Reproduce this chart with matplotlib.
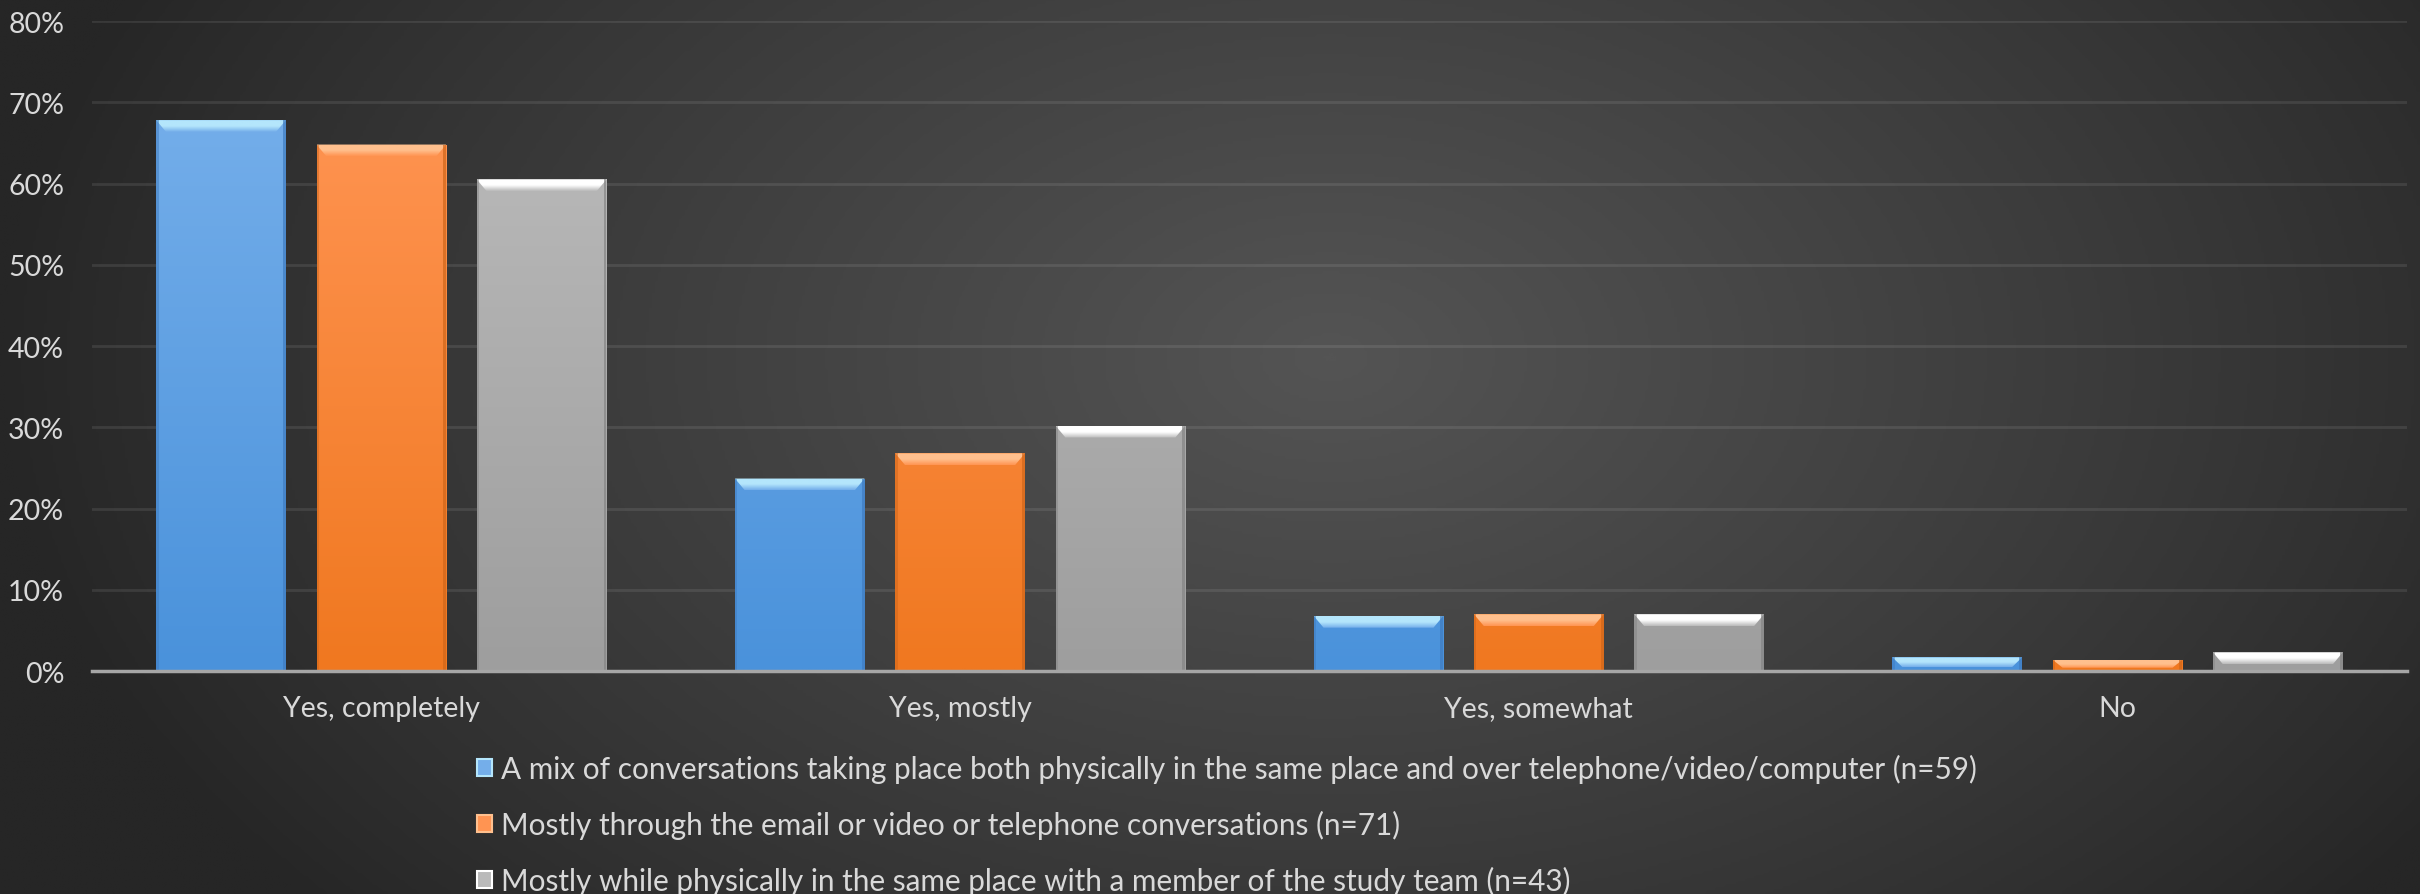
import numpy as np
import matplotlib.pyplot as plt
from matplotlib.patches import Patch, Polygon, Rectangle
from matplotlib.colors import LinearSegmentedColormap

categories = ['Yes, completely', 'Yes, mostly', 'Yes, somewhat', 'No']
mix = [67.8, 23.7, 6.8, 1.7]          # n=59
remote = [64.8, 26.8, 7.0, 1.4]       # n=71
in_person = [60.5, 30.2, 7.0, 2.3]    # n=43
series_labels = [
    'A mix of conversations taking place both physically in the same place and over telephone/video/computer (n=59)',
    'Mostly through the email or video or telephone conversations (n=71)',
    'Mostly while physically in the same place with a member of the study team (n=43)',
]
yticks = list(range(0, 81, 10))

# (bottom colour, top colour, bevel highlight, edge)
styles = [
    ('#4a92db', '#74aeea', '#b4e6fc', '#3f7cc0'),
    ('#f07820', '#ff9452', '#ffc08e', '#d0661a'),
    ('#9e9e9e', '#bababa', '#ffffff', '#858585'),
]

plt.rcParams['font.family'] = ['Lato', 'DejaVu Sans']
txt = '#d9d9d9'

fig = plt.figure(figsize=(24.2, 8.95), dpi=100)

# dark radial background
bg = fig.add_axes([0, 0, 1, 1], zorder=-10)
bg.axis('off')
yy, xx = np.mgrid[0:1:300j, 0:1:800j]
r = np.sqrt(((xx - 0.55) / 0.55) ** 2 + ((yy - 0.4) / 0.95) ** 2)
bg_cmap = LinearSegmentedColormap.from_list('bg', ['#262626', '#545454'])
bg.imshow(np.clip(1 - r, 0, 1) ** 0.9, cmap=bg_cmap, extent=[0, 1, 0, 1],
          aspect='auto', origin='upper', interpolation='bilinear')
bg.set_xlim(0, 1)
bg.set_ylim(0, 1)

ax = fig.add_axes([0.038, 0.249, 0.9566, 0.7264])
ax.patch.set_alpha(0)

x = np.arange(len(categories))
width = 0.224
step = 0.277
bev_h = 1.45
bev_d = 0.017

for i, vals in enumerate([mix, remote, in_person]):
    bot, top, hi, edge = styles[i]
    cmap = LinearSegmentedColormap.from_list('s%d' % i, [bot, top])
    bev_cmap = LinearSegmentedColormap.from_list('b%d' % i, [top, hi, hi])
    bars = ax.bar(x + (i - 1) * step, vals, width=width, color=bot, zorder=3)
    for rect in bars:
        x0, w, h = rect.get_x(), rect.get_width(), rect.get_height()
        grad = np.linspace(h, 0, 100).reshape(-1, 1) / 70.0
        im = ax.imshow(grad, cmap=cmap, vmin=0, vmax=1, extent=[x0, x0 + w, 0, h],
                       aspect='auto', origin='upper', zorder=4, interpolation='bilinear')
        im.set_clip_path(rect)
        # bevelled top edge
        bh = min(bev_h, h * 0.7)
        bev = Polygon([(x0, h), (x0 + w, h), (x0 + w - bev_d, h - bh), (x0 + bev_d, h - bh)],
                      closed=True, facecolor='none', edgecolor='none', zorder=5)
        ax.add_patch(bev)
        bim = ax.imshow(np.linspace(1, 0, 50).reshape(-1, 1), cmap=bev_cmap, vmin=0, vmax=1,
                        extent=[x0, x0 + w, h - bh, h], aspect='auto', origin='upper',
                        zorder=5, interpolation='bilinear')
        bim.set_clip_path(bev)
        ax.add_patch(Rectangle((x0 + w - 0.005, 0), 0.005, h, facecolor=edge,
                               edgecolor='none', alpha=0.7, zorder=6))
        ax.add_patch(Rectangle((x0, 0), 0.004, h, facecolor=edge,
                               edgecolor='none', alpha=0.5, zorder=6))

ax.set_xlim(-0.5, 3.5)
ax.set_ylim(0, 80)
ax.set_yticks(yticks)
ax.set_yticklabels(['%d%%' % t for t in yticks])
ax.set_xticks(x)
ax.set_xticklabels(categories)
ax.yaxis.grid(True, color='white', alpha=0.09, lw=2)
ax.set_axisbelow(True)
for s in ['top', 'right', 'left']:
    ax.spines[s].set_visible(False)
ax.spines['bottom'].set_color('#a6a6a6')
ax.spines['bottom'].set_linewidth(2.5)
ax.spines['bottom'].set_zorder(7)
ax.tick_params(axis='y', length=0, colors=txt, labelsize=20.5, pad=20)
ax.tick_params(axis='x', length=0, colors=txt, labelsize=20.5, pad=17)

handles = [Patch(facecolor=s[1], edgecolor=s[2], lw=1.5) for s in styles]
fig.legend(handles, series_labels, loc='upper left', bbox_to_anchor=(0.191, 0.173),
           frameon=False, fontsize=21.4, labelcolor=txt, borderpad=0,
           handlelength=0.5, handleheight=0.5, handletextpad=0.3, labelspacing=0.9)

fig.savefig('out.png', dpi=100)
